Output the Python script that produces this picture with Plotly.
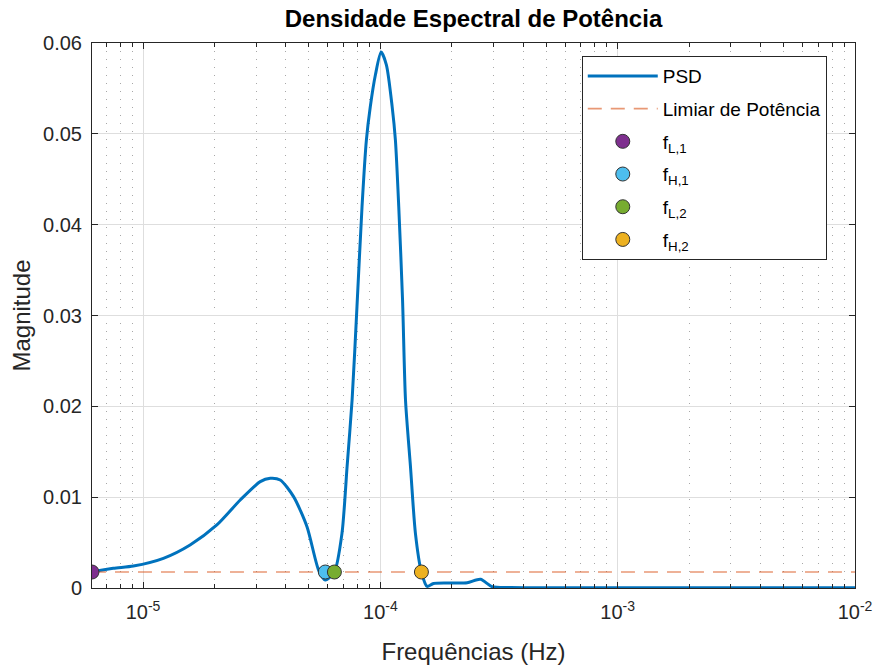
import plotly.graph_objects as go

# Power spectral density samples (frequency in Hz, magnitude)
freq = [6.09e-6, 7.49e-6, 9.10e-6, 1.218e-5, 1.578e-5, 2.046e-5, 2.567e-5, 3.117e-5,
        3.435e-5, 3.784e-5, 4.307e-5, 4.906e-5, 5.49e-5, 5.86e-5, 6.40e-5, 6.89e-5,
        7.24e-5, 7.60e-5, 7.97e-5, 8.37e-5, 8.73e-5, 9.07e-5, 9.53e-5, 1.007e-4,
        1.06e-4, 1.121e-4, 1.157e-4, 1.195e-4, 1.24e-4, 1.276e-4, 1.339e-4, 1.405e-4,
        1.489e-4, 1.574e-4, 1.674e-4, 1.975e-4, 2.322e-4, 2.642e-4, 2.96e-4, 3.54e-4,
        5.0e-4, 1.0e-3, 3.0e-3, 1.0e-2]
psd = [0.00176, 0.00217, 0.00242, 0.00327, 0.00474, 0.00694, 0.00969, 0.01171,
       0.01208, 0.01189, 0.01006, 0.00675, 0.00198, 0.00088, 0.00176, 0.00602,
       0.01336, 0.0207, 0.0310, 0.0420, 0.0493, 0.0530, 0.0565, 0.0590,
       0.0576, 0.0530, 0.0493, 0.0420, 0.0317, 0.0207, 0.01336, 0.00602,
       0.00176, 0.00017, 0.0005, 0.00055, 0.00058, 0.00096, 0.00014, 0.00005,
       0.00003, 0.00003, 0.00002, 0.00002]

# Power threshold and band-edge frequencies
threshold = 0.00176
edge_names = ["f<sub>L,1</sub>", "f<sub>H,1</sub>", "f<sub>L,2</sub>", "f<sub>H,2</sub>"]
edge_freqs = [6.09e-6, 5.86e-5, 6.40e-5, 1.489e-4]
edge_colors = ["#7E2F8E", "#4DBEEE", "#77AC30", "#EDB120"]

x_tickvals = [1e-5, 1e-4, 1e-3, 1e-2]
x_ticktext = ["10<sup>-5</sup>", "10<sup>-4</sup>", "10<sup>-3</sup>", "10<sup>-2</sup>"]
y_tickvals = [0, 0.01, 0.02, 0.03, 0.04, 0.05, 0.06]
y_ticktext = ["0", "0.01", "0.02", "0.03", "0.04", "0.05", "0.06"]

# minor log ticks at 2..9 times each decade
minor_vals = [m * 10.0 ** e for e in range(-6, -2) for m in range(2, 10)]

FONT = "Liberation Sans, Arial, sans-serif"
AX = "#262626"

fig = go.Figure()
fig.add_trace(go.Scatter(x=freq, y=psd, mode="lines", name="PSD", legendgroup="psd",
                         line=dict(color="#0072BD", width=3, shape="spline", smoothing=0.7)))
fig.add_trace(go.Scatter(x=[freq[0], freq[-1]], y=[threshold, threshold], mode="lines",
                         name="Limiar de Potência", legendgroup="thr",
                         line=dict(color="rgba(217,83,25,0.6)", width=1.6, dash="14px,9px")))
for nm, fx, c in zip(edge_names, edge_freqs, edge_colors):
    fig.add_trace(go.Scatter(x=[fx], y=[threshold], mode="markers", name=nm, legendgroup=nm,
                             marker=dict(color=c, size=14, line=dict(color="#333333", width=1))))

fig.update_layout(
    width=876, height=665,
    margin=dict(l=92, r=21, t=43, b=77),
    paper_bgcolor="white", plot_bgcolor="white",
    font=dict(family=FONT, size=20, color=AX),
    title=dict(text="<b>Densidade Espectral de Potência</b>", x=(92 + 855) / 2 / 876,
               xanchor="center", y=1 - 19 / 665, yanchor="middle",
               font=dict(size=24, color="#000000")),
    showlegend=True,
    legend=dict(x=0.963, y=0.976, xanchor="right", yanchor="top",
                bgcolor="white", bordercolor=AX, borderwidth=1,
                font=dict(size=19, color="#000000"), tracegroupgap=5,
                itemwidth=70),
)
fig.update_xaxes(
    type="log", range=[-5.2152, -2], automargin=False,
    tickvals=x_tickvals, ticktext=x_ticktext,
    ticks="inside", ticklen=6, tickcolor=AX,
    showline=True, linecolor=AX, linewidth=1, mirror="ticks",
    showgrid=True, gridcolor="#dedede", gridwidth=1,
    minor=dict(tickmode="array", tickvals=minor_vals, ticks="inside", ticklen=4,
               tickcolor=AX, showgrid=True, griddash="1px,7px", gridcolor="#a8a8a8"),
    zeroline=False, ticklabelstandoff=6,
    title=dict(text="Frequências (Hz)", font=dict(size=24, color=AX), standoff=22),
    tickfont=dict(size=20, color=AX),
)
fig.update_yaxes(
    range=[0, 0.06], tickvals=y_tickvals, ticktext=y_ticktext, automargin=False,
    ticks="inside", ticklen=6, tickcolor=AX,
    showline=True, linecolor=AX, linewidth=1, mirror="ticks",
    showgrid=True, gridcolor="#dedede", gridwidth=1,
    zeroline=False, ticklabelstandoff=5,
    title=dict(text="Magnitude", font=dict(size=24, color=AX), standoff=5),
    tickfont=dict(size=20, color=AX),
)

fig.write_html("out.html")
